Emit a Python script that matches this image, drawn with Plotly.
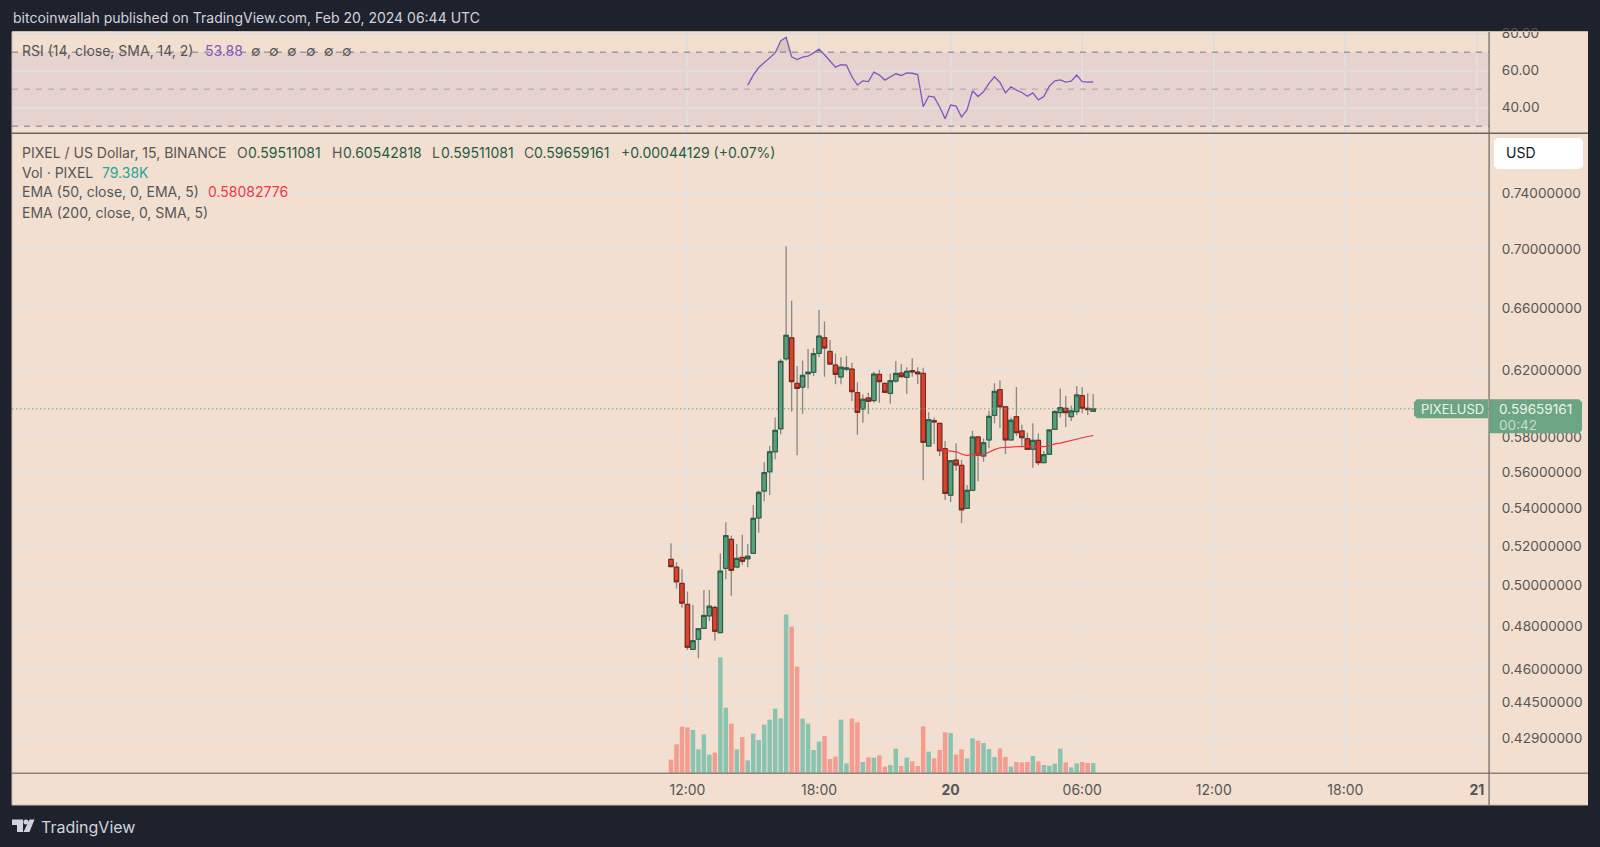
import numpy as np
import pandas as pd
import plotly.graph_objects as go

# 15 minute candles, first one opens Feb 19 11:15
abertura = [.5132, .5092, .5010, .4906, .4690, .4738, .4790, .4850, .4891, .4769, .5086, .5236, .5093, .5142, .5135, .5163, .5349, .5495, .5602, .5715,
            .5848, .6272, .6405, .6120, .6097, .6179, .6188, .6306, .6405, .6318, .6233, .6159, .6207, .6208, .6063, .5965, .6031, .6015, .6175, .6120,
            .6059, .6134, .6183, .6157, .6198, .6189, .6181, .5748, .5895, .5880, .5733, .5472, .5668, .5638, .5401, .5499, .5800, .5691, .5783, .5927,
            .6081, .5978, .5783, .5919, .5835, .5790, .5729, .5781, .5653, .5701, .5845, .5943, .5969, .5919, .5949, .6045, .5969, .59511]
maxima = [.5215, .5117, .5081, .4970, .4903, .4790, .4977, .4977, .4899, .5163, .5326, .5255, .5211, .5260, .5211, .5419, .5497, .5655, .5748, .5915,
          .6269, .7020, .6647, .6227, .6262, .6333, .6340, .6585, .6511, .6391, .6306, .6281, .6289, .6247, .6126, .6053, .6063, .6191, .6202, .6120,
          .6181, .6258, .6239, .6219, .6275, .6219, .6216, .5945, .5915, .5880, .5777, .5664, .5764, .5668, .5528, .5837, .5800, .5792, .5955, .6120,
          .6138, .5983, .5915, .6097, .5872, .5825, .5880, .5821, .5719, .5845, .5959, .6089, .6045, .5985, .6104, .6097, .6059, .60543]
minima = [.5090, .4985, .4890, .4687, .4687, .4649, .4788, .4825, .4731, .4767, .5031, .4948, .5086, .5105, .5092, .5161, .5271, .5439, .5473, .5672,
          .5816, .6260, .5949, .5695, .5937, .6089, .6165, .6281, .6161, .6237, .6114, .6114, .6194, .6013, .5813, .5883, .5935, .6002, .6002, .6065,
          .5996, .6124, .6154, .6057, .6161, .6116, .5554, .5744, .5760, .5691, .5446, .5435, .5608, .5322, .5399, .5499, .5549, .5658, .5735, .5880,
          .5852, .5702, .5783, .5806, .5744, .5725, .5625, .5638, .5653, .5698, .5841, .5915, .5858, .5894, .5929, .5939, .5929, .59511]
fechamento = [.5095, .5018, .4912, .4700, .4731, .4788, .4852, .4897, .4776, .5072, .5255, .5076, .5137, .5122, .5148, .5347, .5488, .5597, .5715, .5839,
              .6256, .6421, .6130, .6089, .6169, .6188, .6304, .6416, .6340, .6239, .6175, .6219, .6215, .6069, .5945, .6023, .6011, .6177, .6130, .6065,
              .6136, .6181, .6161, .6194, .6191, .6179, .5769, .5901, .5889, .5721, .5482, .5664, .5640, .5393, .5499, .5800, .5695, .5767, .5921, .6071,
              .5978, .5783, .5898, .5825, .5796, .5729, .5781, .5653, .5698, .5841, .5949, .5973, .5943, .5953, .6049, .5969, .59615, .59659]

# volume in thousands of PIXEL
volume = [107, 229, 371, 365, 344, 189, 309, 147, 163, 925, 523, 395, 189, 288, 101, 315, 264, 387, 427, 515,
          437, 1269, 1173, 851, 435, 395, 184, 251, 296, 112, 131, 427, 77, 435, 405, 88, 125, 123, 141, 51,
          64, 195, 56, 123, 93, 56, 373, 171, 117, 184, 325, 320, 147, 189, 117, 277, 259, 240, 192, 128,
          197, 128, 51, 88, 85, 88, 136, 93, 64, 59, 75, 195, 85, 45, 77, 88, 80, 79.38]

# starts on the 50th candle
ema_50 = [.5727, .5723, .5719, .5715, .5702, .5693, .5701, .5697, .5698, .5714, .5727, .5738, .5738, .5742, .5744, .5746, .5746, .5746, .5746, .5744,
          .5748, .5760, .5765, .5773, .5779, .5787, .5796, .5803, .58083]

# starts on the 15th candle
rsi = [52.2, 57.6, 61.7, 64.4, 66.8, 69.6, 76.1, 78.1, 67.5, 66.0, 67.3, 67.8, 69.6, 71.6, 68.6, 65.3, 61.9, 63.2, 63.0, 56.7,
       52.2, 54.5, 54.1, 59.2, 57.6, 54.9, 56.7, 58.3, 57.4, 58.8, 58.6, 57.9, 40.5, 46.2, 45.7, 40.5, 34.0, 41.4, 40.8, 34.9,
       38.8, 49.1, 46.0, 48.6, 53.1, 56.7, 53.6, 48.0, 51.3, 49.5, 48.2, 46.2, 48.0, 44.2, 46.0, 51.6, 54.5, 55.0, 53.8, 54.3,
       57.6, 54.1, 53.8, 53.88]

preco_ticks = [.429, .445, .46, .48, .50, .52, .54, .56, .58, .62, .66, .70, .74, .78]
preco_labels = ['0.42900000', '0.44500000', '0.46000000', '0.48000000', '0.50000000', '0.52000000', '0.54000000',
                '0.56000000', '0.58000000', '0.62000000', '0.66000000', '0.70000000', '0.74000000', '']
rsi_ticks = [40, 60, 80]
rsi_labels = ['40.00', '60.00', '80.00']
tempo_ticks = ['2024-02-19 12:00', '2024-02-19 18:00', '2024-02-20 00:00', '2024-02-20 06:00',
               '2024-02-20 12:00', '2024-02-20 18:00', '2024-02-21 00:00']
tempo_labels = ['12:00', '18:00', '<b>20</b>', '06:00', '12:00', '18:00', '<b>21</b>']

LARGURA, ALTURA = 1600, 847
FONTE = 'Inter'
FUNDO = '#1e222d'
PAINEL = '#f2dfcf'
GRADE = '#e7e2df'
GRADE_RSI = '#e3dcdd'
LINHA_ESCURA = '#6a6560'
TEXTO = '#565656'
VERDE = '#6ba583'


def px_x(x):
    return x / LARGURA


def px_y(y):
    return 1 - y / ALTURA


def caminho(pontos):
    """Builds an SVG path in paper coordinates from (x, y) pixels."""
    partes = [f'{px_x(x):.5f} {px_y(y):.5f}' for x, y in pontos]
    return 'M ' + ' L '.join(partes) + ' Z'


def retangulo(x0, y0, x1, y1, cor, camada='above'):
    return dict(type='rect', xref='paper', yref='paper', x0=px_x(x0), x1=px_x(x1), y0=px_y(y0), y1=px_y(y1),
                fillcolor=cor, line_width=0, layer=camada)


def texto(x, y, s, cor=TEXTO, tam=14, ancora='left'):
    return dict(x=px_x(x), y=px_y(y), xref='paper', yref='paper', text=s, showarrow=False,
                xanchor=ancora, yanchor='middle', borderpad=0, font=dict(family=FONTE, size=tam, color=cor))


datas = pd.date_range('2024-02-19 11:15', periods=len(abertura), freq='15min')
o = np.array(abertura)
c = np.array(fechamento)
alta = c >= o

fig = go.Figure()

# volume sits behind the candles, on its own hidden scale
fig.add_trace(go.Bar(x=datas, y=volume, yaxis='y3', xaxis='x', marker=dict(color=np.where(alta, '#8ac4b1', '#f59c90').tolist(), line_width=0),
                     hoverinfo='skip', showlegend=False))

# grey wicks first, then the bodies with their dark border on top
fig.add_trace(go.Candlestick(x=datas, open=abertura, high=maxima, low=minima, close=fechamento,
                             increasing=dict(line=dict(color='#8a8683', width=1.3), fillcolor='#8a8683'),
                             decreasing=dict(line=dict(color='#8a8683', width=1.3), fillcolor='#8a8683'),
                             hoverinfo='skip', showlegend=False))
fig.add_trace(go.Candlestick(x=datas, open=abertura, high=np.maximum(o, c), low=np.minimum(o, c), close=fechamento,
                             increasing=dict(line=dict(color='#1f5c45', width=1), fillcolor='#5a9e7c'),
                             decreasing=dict(line=dict(color='#7c2016', width=1), fillcolor='#d9432f'),
                             hoverinfo='skip', showlegend=False))
fig.add_trace(go.Scatter(x=datas[49:], y=ema_50, mode='lines', line=dict(color='#f23645', width=1.2), hoverinfo='skip', showlegend=False))

# RSI pane, with the small fill over the 70 line
datas_rsi = datas[14:]
fig.add_trace(go.Scatter(x=datas_rsi, y=np.full(len(rsi), 70), xaxis='x2', yaxis='y2', mode='lines', line_width=0, hoverinfo='skip', showlegend=False))
fig.add_trace(go.Scatter(x=datas_rsi, y=np.maximum(rsi, 70), xaxis='x2', yaxis='y2', mode='lines', line_width=0, fill='tonexty',
                         fillcolor='rgba(120,123,134,0.22)', hoverinfo='skip', showlegend=False))
fig.add_trace(go.Scatter(x=datas_rsi, y=rsi, xaxis='x2', yaxis='y2', mode='lines', line=dict(color='#7e57c2', width=1.3), hoverinfo='skip', showlegend=False))

formas = [
    retangulo(12, 32, 1588, 805, PAINEL, 'below'),
    dict(type='line', xref='paper', yref='paper', x0=px_x(12), x1=px_x(1588), y0=px_y(31.5), y1=px_y(31.5), line=dict(color='#c9bdb2', width=1), layer='above'),
    dict(type='line', xref='paper', yref='paper', x0=px_x(12), x1=px_x(1588), y0=px_y(805), y1=px_y(805), line=dict(color='#c9bdb2', width=1), layer='above'),
    dict(type='line', xref='paper', yref='paper', x0=px_x(12), x1=px_x(12), y0=px_y(32), y1=px_y(805), line=dict(color='#c9bdb2', width=1), layer='above'),
    # RSI band and its levels
    dict(type='rect', xref='x2', yref='y2', x0='2024-02-18 05:12', x1='2024-02-21 00:33', y0=30, y1=70, fillcolor='#e6d3cf', line_width=0, layer='below'),
    dict(type='line', xref='x2', yref='y2', x0='2024-02-18 05:12', x1='2024-02-21 00:33', y0=70, y1=70, line=dict(color='#787b86', width=1, dash='6px 6px'), layer='above'),
    dict(type='line', xref='x2', yref='y2', x0='2024-02-18 05:12', x1='2024-02-21 00:33', y0=50, y1=50, line=dict(color='rgba(120,123,134,0.55)', width=1, dash='6px 6px'), layer='above'),
    dict(type='line', xref='x2', yref='y2', x0='2024-02-18 05:12', x1='2024-02-21 00:33', y0=30, y1=30, line=dict(color='#787b86', width=1, dash='6px 6px'), layer='above'),
    # last price line
    dict(type='line', xref='x', yref='y', x0='2024-02-18 05:12', x1='2024-02-21 00:33', y0=fechamento[-1], y1=fechamento[-1], line=dict(color=VERDE, width=1, dash='1.5px 2.5px'), layer='above'),
    # pane separators
    retangulo(12, 132.5, 1588, 134, LINHA_ESCURA),
    retangulo(12, 772.5, 1588, 774, '#8b837b'),
    retangulo(1488.5, 32, 1489.7, 805, LINHA_ESCURA),
    # USD box
    dict(type='path', xref='paper', yref='paper', path=caminho([(1497, 138), (1580, 138), (1583, 141), (1583, 166), (1580, 169), (1497, 169), (1494, 166), (1494, 141)]),
         fillcolor='white', line_width=0, layer='above'),
    # price tags
    dict(type='path', xref='paper', yref='paper', path=caminho([(1417, 399.3), (1488, 399.3), (1488, 418.3), (1417, 418.3), (1414, 415.3), (1414, 402.3)]),
         fillcolor=VERDE, line_width=0, layer='above'),
    dict(type='path', xref='paper', yref='paper', path=caminho([(1489.5, 399.3), (1579, 399.3), (1582, 402.3), (1582, 430.3), (1579, 433.3), (1489.5, 433.3)]),
         fillcolor=VERDE, line_width=0, layer='above'),
    # TradingView logo
    dict(type='path', xref='paper', yref='paper', path=caminho([(12, 819.5), (23, 819.5), (23, 832), (17, 832), (17, 825), (12, 825)]), fillcolor='#d1d4dc', line_width=0, layer='above'),
    dict(type='circle', xref='paper', yref='paper', x0=px_x(23.5), x1=px_x(28.5), y0=px_y(819.5), y1=px_y(824.5), fillcolor='#d1d4dc', line_width=0, layer='above'),
    dict(type='path', xref='paper', yref='paper', path=caminho([(29.5, 819.5), (34.5, 819.5), (29.5, 832), (23.5, 832)]), fillcolor='#d1d4dc', line_width=0, layer='above'),
]

textos = [
    texto(12, 18, 'bitcoinwallah published on TradingView.com, Feb 20, 2024 06:44 UTC', '#d1d4dc'),
    texto(21, 51, 'RSI (14, close, SMA, 14, 2)'),
    texto(204, 51, '53.88', '#7e57c2'),
    texto(21, 152, 'PIXEL / US Dollar, 15, BINANCE'),
    texto(236, 152, 'O', TEXTO), texto(247, 152, '0.59511081', '#1f5c45'),
    texto(331, 152, 'H', TEXTO), texto(342, 152, '0.60542818', '#1f5c45'),
    texto(431, 152, 'L', TEXTO), texto(440, 152, '0.59511081', '#1f5c45'),
    texto(523, 152, 'C', TEXTO), texto(533, 152, '0.59659161', '#1f5c45'),
    texto(620, 152, '+0.00044129 (+0.07%)', '#1f5c45'),
    texto(21, 172, 'Vol · PIXEL'),
    texto(101, 172, '79.38K', '#26a69a'),
    texto(21, 192, 'EMA (50, close, 0, EMA, 5)'),
    texto(207, 192, '0.58082776', '#f23645'),
    texto(21, 212, 'EMA (200, close, 0, SMA, 5)'),
    texto(1505, 153, 'USD', '#131722'),
    texto(1420, 409, 'PIXELUSD', '#eef3ee', 13),
    texto(1498, 409, '0.59659161', '#eef3ee', 13.6),
    texto(1498, 424.5, '00:42', 'rgba(238,243,238,0.72)', 13.6),
    texto(40, 827, 'TradingView', '#d1d4dc', 16),
]
for x_vazio in [256, 274, 292, 311, 329, 347]:
    textos.append(texto(x_vazio, 51, '∅', TEXTO, 14, 'center'))

dominio_x = [px_x(12), px_x(1489)]
intervalo_x = ['2024-02-18 05:12', '2024-02-21 00:33']

fig.update_layout(
    width=LARGURA,
    height=ALTURA,
    margin=dict(l=0, r=0, t=0, b=0),
    paper_bgcolor=FUNDO,
    plot_bgcolor='rgba(0,0,0,0)',
    boxgap=0.2,
    boxgroupgap=0,
    bargap=0.18,
    hovermode=False,
    font=dict(family=FONTE, size=13.6, color=TEXTO),
    xaxis=dict(domain=dominio_x, anchor='y', range=intervalo_x, type='date', rangeslider=dict(visible=False), automargin=False,
               tickmode='array', tickvals=tempo_ticks, ticktext=tempo_labels, tickfont=dict(size=14, color=TEXTO),
               ticks='outside', ticklen=4, tickcolor='rgba(0,0,0,0)', showgrid=True, gridcolor=GRADE, gridwidth=1.6, zeroline=False, showline=False),
    xaxis2=dict(domain=dominio_x, anchor='y2', range=intervalo_x, type='date', matches='x', showticklabels=False, automargin=False,
                tickmode='array', tickvals=tempo_ticks, showgrid=True, gridcolor=GRADE_RSI, gridwidth=1.6, zeroline=False, showline=False),
    yaxis=dict(domain=[px_y(773), px_y(133)], anchor='x', type='log', side='right', range=[np.log10(.41447), np.log10(.7861)], automargin=False,
               tickmode='array', tickvals=preco_ticks, ticktext=preco_labels, ticks='outside', ticklen=9, tickcolor='rgba(0,0,0,0)',
               showgrid=True, gridcolor=GRADE, gridwidth=1.6, zeroline=False, showline=False),
    yaxis2=dict(domain=[px_y(133), px_y(32)], anchor='x2', side='right', range=[26.3, 80.9], automargin=False,
                tickmode='array', tickvals=rsi_ticks, ticktext=rsi_labels, ticks='outside', ticklen=9, tickcolor='rgba(0,0,0,0)',
                showgrid=True, gridcolor=GRADE_RSI, gridwidth=1.6, zeroline=False, showline=False),
    yaxis3=dict(domain=[px_y(773), px_y(133)], anchor='x', overlaying='y', range=[0, 5120], visible=False, automargin=False),
    shapes=formas,
    annotations=textos,
)

# the page's default body margin would shift the whole figure
fig.write_html("out.html", config=dict(displayModeBar=False),
               post_script="document.body.style.margin='0';document.body.style.overflow='hidden';")
